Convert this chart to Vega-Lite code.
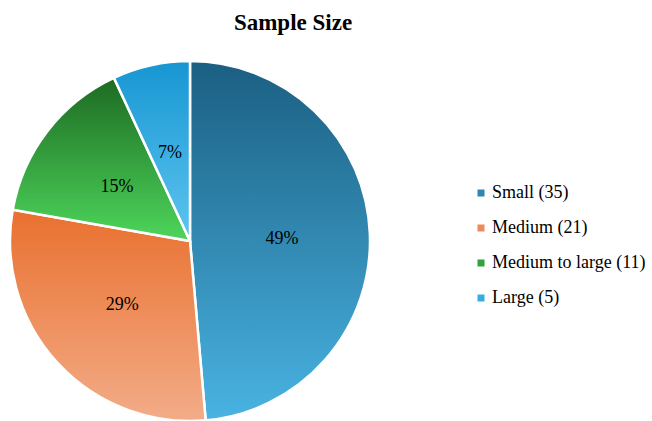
{
  "$schema": "https://vega.github.io/schema/vega-lite/v6.json",
  "width": 380,
  "height": 362,
  "autosize": "none",
  "padding": {"left": 0, "top": 60, "right": 272, "bottom": 0},
  "background": "white",
  "title": {
    "text": "Sample Size",
    "font": "Liberation Serif",
    "fontSize": 23,
    "fontWeight": "bold",
    "color": "#000000",
    "anchor": "middle",
    "dx": 103,
    "offset": 21
  },
  "config": {
    "view": {"stroke": null},
    "legend": {"labelFont": "Liberation Serif", "labelFontSize": 18, "labelColor": "#000000"}
  },
  "data": {
    "values": [
      {"size": "Small", "label": "Small (35)", "count": 35, "rank": 1},
      {"size": "Medium", "label": "Medium (21)", "count": 21, "rank": 2},
      {"size": "Medium to large", "label": "Medium to large (11)", "count": 11, "rank": 3},
      {"size": "Large", "label": "Large (5)", "count": 5, "rank": 4}
    ]
  },
  "transform": [
    {"joinaggregate": [{"op": "sum", "field": "count", "as": "total"}]},
    {"calculate": "format(datum.count / datum.total, '.0%')", "as": "pct"}
  ],
  "encoding": {
    "theta": {"field": "count", "type": "quantitative", "stack": true},
    "order": {"field": "rank", "type": "ordinal"}
  },
  "layer": [
    {
      "mark": {"type": "arc", "outerRadius": 180},
      "encoding": {
        "color": {
          "field": "label",
          "type": "nominal",
          "sort": ["Small (35)", "Medium (21)", "Medium to large (11)", "Large (5)"],
          "scale": {
            "domain": ["Small (35)", "Medium (21)", "Medium to large (11)", "Large (5)"],
            "range": ["#2f86b0", "#ec8a5a", "#32a23c", "#35ace2"]
          },
          "legend": {
            "title": null,
            "orient": "none",
            "legendX": 472,
            "legendY": 124,
            "symbolType": "square",
            "symbolSize": 49,
            "symbolStrokeWidth": 0,
            "labelFont": "Liberation Serif",
            "labelFontSize": 18,
            "labelColor": "#000000",
            "labelOffset": 2,
            "rowPadding": 17,
            "padding": 0
          }
        }
      }
    },
    {
      "mark": {"type": "arc", "outerRadius": 180, "stroke": "white", "strokeWidth": 2.5},
      "encoding": {
        "fill": {
          "condition": [
            {"test": "datum.size === 'Small'", "value": {"gradient": "linear", "x1": 0, "y1": 0, "x2": 0, "y2": 1, "stops": [{"offset": 0, "color": "#1b5f82"}, {"offset": 1, "color": "#49b3e2"}]}},
            {"test": "datum.size === 'Medium'", "value": {"gradient": "linear", "x1": 0, "y1": 0, "x2": 0, "y2": 1, "stops": [{"offset": 0, "color": "#e9702f"}, {"offset": 1, "color": "#f3ac88"}]}},
            {"test": "datum.size === 'Medium to large'", "value": {"gradient": "linear", "x1": 0, "y1": 0, "x2": 0, "y2": 1, "stops": [{"offset": 0, "color": "#1d6a22"}, {"offset": 1, "color": "#4dd65b"}]}}
          ],
          "value": {"gradient": "linear", "x1": 0, "y1": 0, "x2": 0, "y2": 1, "stops": [{"offset": 0, "color": "#1796d2"}, {"offset": 1, "color": "#5ec5f0"}]}
        }
      }
    },
    {
      "mark": {"type": "text", "radius": 92, "font": "Liberation Serif", "fontSize": 18, "color": "#000000", "dy": 2},
      "encoding": {"text": {"field": "pct", "type": "nominal"}}
    }
  ]
}
